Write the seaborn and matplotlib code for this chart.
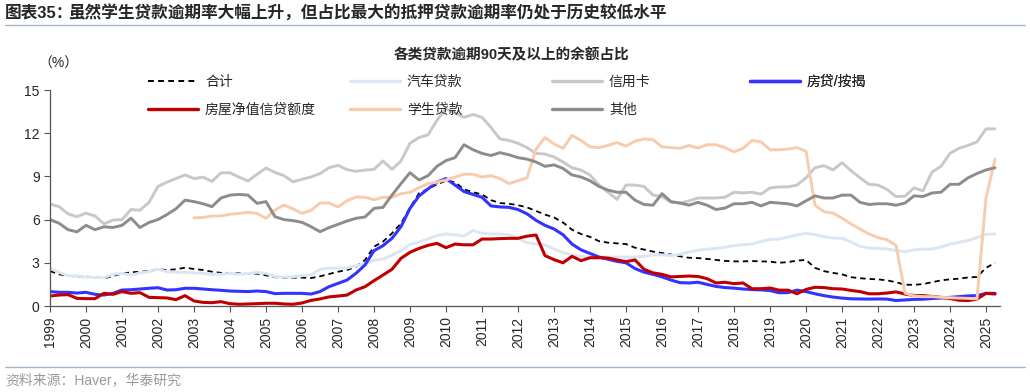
import numpy as np
import pandas as pd
import seaborn as sns
import matplotlib.pyplot as plt
from matplotlib.lines import Line2D

# quarterly, 1999Q1 .. 2025Q2
quarters = pd.period_range('1999Q1', '2025Q2', freq='Q')

total = [2.43, 2.2, 2.1, 2.04, 2.04, 2.0, 1.92, 2.08, 2.25, 2.34, 2.38, 2.43, 2.55, 2.5, 2.55, 2.66, 2.57, 2.5, 2.38, 2.3, 2.3, 2.27,
         2.22, 2.25, 2.13, 2.0, 1.97, 1.97, 1.97, 1.94, 2.06, 2.22, 2.38, 2.5, 2.73, 3.19, 4.12, 4.47, 5.05, 5.74, 6.83, 7.82, 8.13,
         8.45, 8.7, 8.6, 8.1, 7.9, 7.75, 7.35, 7.15, 7.1, 7.0, 6.85, 6.6, 6.35, 6.15, 5.8, 5.3, 5.0, 4.8, 4.5, 4.4, 4.35, 4.3, 4.05,
         3.92, 3.78, 3.68, 3.57, 3.45, 3.35, 3.33,
         3.27, 3.2, 3.13, 3.1, 3.1, 3.12, 3.1, 3.08, 3.0, 3.05, 3.15, 3.2,
         2.65, 2.42, 2.3, 2.2, 2.0, 1.93, 1.88, 1.85, 1.78, 1.65, 1.48, 1.47, 1.52, 1.65, 1.78, 1.85, 1.9, 1.98, 2.02, 2.65, 3.0]

auto = [2.62, 2.34, 2.1, 2.08, 2.0, 1.97, 1.97, 2.2, 2.27, 2.15, 2.3, 2.38, 2.55, 2.38, 2.34, 2.34, 2.3, 2.27, 2.2, 2.2, 2.27, 2.2,
        2.25, 2.34, 2.27, 2.04, 2.0, 2.04, 2.1, 2.15, 2.55, 2.62, 2.64, 2.64, 2.8, 2.94, 3.17, 3.26, 3.54, 3.84, 4.28, 4.44, 4.65,
        4.9, 5.0, 4.95, 4.85, 5.25, 5.05, 5.0, 5.0, 4.95, 4.7, 4.4, 4.3, 4.25, 3.95, 3.7, 3.55, 3.45, 3.4, 3.4, 3.4, 3.4, 3.4, 3.4,
        3.45, 3.55, 3.55, 3.5, 3.6, 3.75, 3.87,
        3.95, 4.0, 4.08, 4.2, 4.25, 4.3, 4.48, 4.62, 4.65, 4.78, 4.93, 5.05,
        4.95, 4.82, 4.72, 4.7, 4.45, 4.15, 4.02, 4.0, 3.96, 3.85, 3.77, 3.9, 3.95, 3.95, 4.1, 4.3, 4.42, 4.55, 4.75, 4.98, 5.0]

credit_card = [7.08, 6.9, 6.4, 6.2, 6.45, 6.25, 5.7, 5.97, 6.0, 6.7, 6.65, 7.2, 8.3, 8.6, 8.85, 9.1, 8.85, 8.95, 8.65, 9.25, 9.25, 8.95,
               8.68, 9.14, 9.58, 9.28, 9.05, 8.63, 8.8, 8.96, 9.19, 9.6, 9.77, 9.47, 9.35, 9.44, 9.49, 10.07, 9.49, 10.07, 11.3, 11.7, 11.88,
               12.9, 13.7, 13.4, 13.1, 13.3, 13.1, 12.4, 11.6, 11.5, 11.3, 11.0, 10.6, 10.55, 10.35, 10.0, 9.6, 9.44, 9.1, 8.4, 7.9, 7.4,
               8.4, 8.4, 8.3, 7.7, 7.6, 7.2, 7.15, 7.3, 7.5,
               7.5, 7.5, 7.55, 7.9, 7.85, 7.9, 7.77, 8.2, 8.27, 8.27, 8.4, 8.9,
               9.6, 9.75, 9.45, 9.95, 9.4, 8.9, 8.45, 8.4, 8.1, 7.6, 7.62, 8.2, 8.0, 9.3, 9.7, 10.6, 10.95, 11.15, 11.4, 12.3, 12.3]

mortgage = [1.0, 0.95, 0.95, 0.9, 0.95, 0.81, 0.76, 0.88, 1.11, 1.13, 1.18, 1.23, 1.27, 1.11, 1.13, 1.23, 1.23, 1.18, 1.13, 1.09, 1.04, 1.02,
            1.0, 1.04, 1.0, 0.86, 0.88, 0.88, 0.88, 0.83, 1.0, 1.34, 1.57, 1.8, 2.27, 2.85, 3.84, 4.19, 4.7, 5.51, 6.78, 7.64, 8.13,
            8.6, 8.85, 8.4, 7.95, 7.75, 7.55, 6.95, 6.88, 6.85, 6.7, 6.4, 5.95, 5.6, 5.35, 4.95, 4.3, 3.9, 3.65, 3.4, 3.25, 3.1, 3.0,
            2.6, 2.35, 2.2, 2.02, 1.8, 1.62, 1.6, 1.65,
            1.5, 1.36, 1.28, 1.24, 1.18, 1.14, 1.12, 1.07, 0.92, 0.93, 1.1, 1.0,
            0.85, 0.72, 0.62, 0.55, 0.5, 0.49, 0.48, 0.49, 0.48, 0.38, 0.42, 0.46, 0.47, 0.52, 0.55, 0.6, 0.65, 0.7, 0.72, 0.88, 0.88]

heloc = [0.69, 0.76, 0.79, 0.53, 0.51, 0.51, 0.88, 0.81, 1.0, 0.88, 0.93, 0.6, 0.58, 0.56, 0.44, 0.72, 0.35, 0.25, 0.23, 0.3, 0.16, 0.12,
         0.14, 0.16, 0.19, 0.19, 0.14, 0.12, 0.21, 0.39, 0.49, 0.63, 0.69, 0.76, 1.11, 1.34, 1.76, 2.15, 2.55, 3.31, 3.73, 4.0, 4.21,
         4.35, 4.05, 4.3, 4.25, 4.25, 4.65, 4.65, 4.68, 4.7, 4.7, 4.85, 4.93, 3.5, 3.22, 3.0, 3.45, 3.15, 3.35, 3.35, 3.33, 3.2, 3.08,
         3.2, 2.55, 2.3, 2.2, 2.02, 2.05, 2.08, 2.05,
         1.9, 1.6, 1.65, 1.55, 1.6, 1.2, 1.2, 1.25, 1.1, 1.1, 0.85, 1.15,
         1.3, 1.28, 1.2, 1.18, 1.08, 1.0, 0.85, 0.85, 0.9, 0.98, 0.83, 0.73, 0.72, 0.66, 0.6, 0.52, 0.4, 0.38, 0.48, 0.88, 0.83]

student = [np.nan] * 16 + [
           6.13, 6.15, 6.25, 6.25, 6.37, 6.43,
           6.5, 6.43, 6.09, 6.67, 7.01, 6.74, 6.43, 6.64, 7.15, 7.15, 6.88, 7.31, 7.57, 7.55, 7.38, 7.55, 7.55, 7.8, 7.89, 8.22, 8.5,
           8.6, 8.75, 8.95, 9.15, 9.15, 8.96, 9.05, 8.85, 8.5, 8.7, 8.9, 10.9, 11.7, 11.25, 10.95, 11.85, 11.5, 11.05, 11.0, 11.15,
           11.35, 11.1, 11.45, 11.6, 11.55, 11.05, 11.0, 10.95, 11.15, 10.97,
           11.2, 11.2, 11.0, 10.7, 10.95, 11.5, 11.4, 10.85, 10.85, 10.9, 11.0, 10.75,
           7.0, 6.55, 6.45, 6.1, 5.7, 5.35, 5.0, 4.75, 4.6, 4.2, 0.9, 0.7, 0.65, 0.65, 0.6, 0.58, 0.55, 0.53, 0.5, 7.5, 10.2]

other = [6.0, 5.75, 5.3, 5.15, 5.6, 5.3, 5.5, 5.45, 5.6, 6.1, 5.45, 5.8, 6.0, 6.35, 6.75, 7.35, 7.25, 7.1, 6.9, 7.5, 7.7, 7.75,
         7.7, 7.13, 7.25, 6.2, 6.0, 5.93, 5.81, 5.51, 5.16, 5.44, 5.67, 5.9, 6.09, 6.18, 6.78, 6.85, 7.7, 8.5, 9.26, 8.75, 9.05,
         9.7, 10.1, 10.3, 11.2, 10.85, 10.6, 10.45, 10.65, 10.5, 10.3, 10.2, 10.0, 9.7, 9.8, 9.55, 9.1, 8.96, 8.7, 8.3, 8.05, 7.9,
         7.9, 7.35, 7.05, 7.0, 7.8, 7.25, 7.15, 7.0, 7.2,
         7.0, 6.7, 6.8, 7.1, 7.1, 7.2, 6.95, 7.2, 7.15, 7.1, 6.95, 7.3,
         7.65, 7.5, 7.5, 7.7, 7.7, 7.2, 7.05, 7.1, 7.1, 7.0, 7.15, 7.65, 7.6, 7.85, 7.9, 8.45, 8.45, 8.9, 9.2, 9.45, 9.6]

labels = ['合计', '汽车贷款', '信用卡', '房贷/按揭', '房屋净值信贷额度', '学生贷款', '其他']
series = [total, auto, credit_card, mortgage, heloc, student, other]
colors = ['#000000', '#dce6f2', '#c8c8c8', '#3333ff', '#c00000', '#f8cbad', '#8c8c8c']
styles = [(0, (3, 2.2)), '-', '-', '-', '-', '-', '-']
widths = [1.3, 2.1, 2.1, 2.2, 2.2, 2.1, 2.1]

df = pd.DataFrame({'t': quarters.year + (quarters.quarter - 1) / 4})
for name, vals in zip(labels, series):
    df[name] = vals

sns.set_style('ticks')
plt.rcParams['font.family'] = ['Liberation Sans', 'Noto Sans CJK SC']
plt.rcParams['axes.unicode_minus'] = False

fig = plt.figure(figsize=(10.3, 3.92), dpi=100)
ax = fig.add_axes([50 / 1030, 1 - 306 / 392, 950 / 1030, 216 / 392])

handles = []
for name, c, ls, lw in zip(labels, colors, styles, widths):
    sns.lineplot(x='t', y=name, data=df, ax=ax, color=c, linestyle=ls, linewidth=lw)
    handles.append(Line2D([], [], color=c, linestyle=ls, linewidth=2.4 if ls == '-' else 1.4))

ax.set_xlim(1999, 1999 + 950 / 36)
ax.set_ylim(0, 15)
ax.set_yticks([0, 3, 6, 9, 12, 15])
ax.set_xticks(range(1999, 2026))
ax.set_xticklabels([str(y) for y in range(1999, 2026)], rotation=90)
ax.tick_params(axis='both', labelsize=10, length=4, width=0.8, color='#555555')
ax.set_xlabel('')
ax.set_ylabel('')
for s in ['top', 'right']:
    ax.spines[s].set_visible(False)
for s in ['left', 'bottom']:
    ax.spines[s].set_color('#555555')
    ax.spines[s].set_linewidth(0.9)

# legend in four fixed columns
col_x = [148, 350, 552, 750]
groups = [[0, 4], [1, 5], [2, 6], [3]]
for cx, g in zip(col_x, groups):
    leg = ax.legend([handles[i] for i in g], [labels[i] for i in g], loc='upper left',
                    bbox_to_anchor=(cx / 1030, 1 - 75 / 392), bbox_transform=fig.transFigure,
                    frameon=False, fontsize=10, handlelength=3.6, handletextpad=0.5,
                    labelspacing=0.97, borderpad=0, borderaxespad=0)
    ax.add_artist(leg)

# titles and notes
fig.text(5 / 1030, 1 - 13 / 392, '图表35：', fontsize=12, fontweight='bold', va='center', ha='left')
fig.text(68 / 1030, 1 - 13 / 392, '虽然学生贷款逾期率大幅上升，但占比最大的抵押贷款逾期率仍处于历史较低水平',
         fontsize=12, fontweight='bold', va='center', ha='left')
fig.add_artist(Line2D([5 / 1030, 1025 / 1030], [1 - 25 / 392, 1 - 25 / 392], color='#a6b8cc', lw=1))
fig.text(512 / 1030, 1 - 55 / 392, '各类贷款逾期90天及以上的余额占比', fontsize=10.5, fontweight='bold',
         va='center', ha='center')
fig.text(38 / 1030, 1 - 64 / 392, '（%）', fontsize=10, va='center', ha='left')
fig.add_artist(Line2D([5 / 1030, 1025 / 1030], [1 - 367 / 392, 1 - 367 / 392], color='#a6b8cc', lw=1))
fig.text(5 / 1030, 1 - 380 / 392, '资料来源：Haver，华泰研究', fontsize=10, color='#9a9a9a',
         va='center', ha='left')

fig.savefig('out.png', dpi=100)
